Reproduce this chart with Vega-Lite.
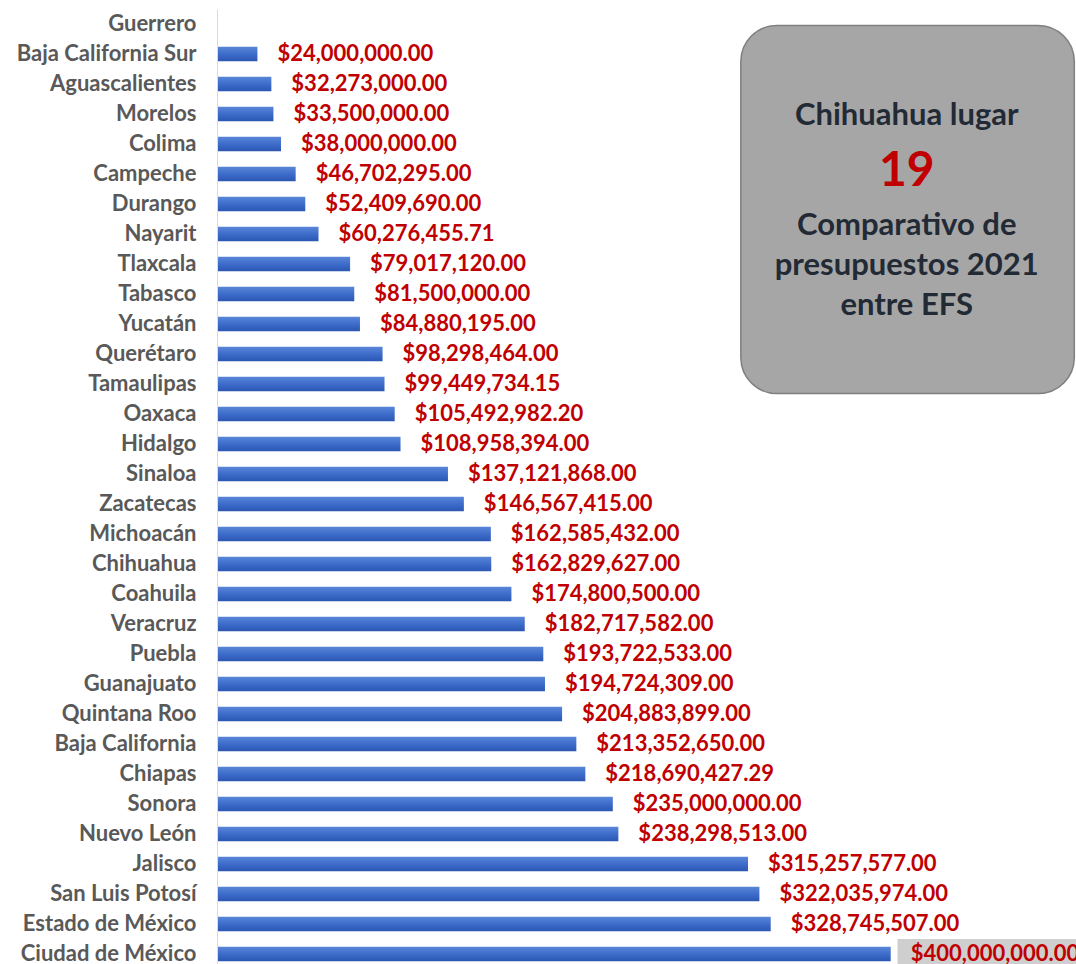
{
  "$schema": "https://vega.github.io/schema/vega-lite/v6.json",
  "width": 859,
  "height": 960,
  "padding": {"left": 0, "top": 9, "right": 0, "bottom": 0},
  "config": {"view": {"stroke": null}, "font": "Lato"},
  "data": {"values": [
    {"state": "Guerrero", "value": null},
    {"state": "Baja California Sur", "value": 24000000.00},
    {"state": "Aguascalientes", "value": 32273000.00},
    {"state": "Morelos", "value": 33500000.00},
    {"state": "Colima", "value": 38000000.00},
    {"state": "Campeche", "value": 46702295.00},
    {"state": "Durango", "value": 52409690.00},
    {"state": "Nayarit", "value": 60276455.71},
    {"state": "Tlaxcala", "value": 79017120.00},
    {"state": "Tabasco", "value": 81500000.00},
    {"state": "Yucatán", "value": 84880195.00},
    {"state": "Querétaro", "value": 98298464.00},
    {"state": "Tamaulipas", "value": 99449734.15},
    {"state": "Oaxaca", "value": 105492982.20},
    {"state": "Hidalgo", "value": 108958394.00},
    {"state": "Sinaloa", "value": 137121868.00},
    {"state": "Zacatecas", "value": 146567415.00},
    {"state": "Michoacán", "value": 162585432.00},
    {"state": "Chihuahua", "value": 162829627.00},
    {"state": "Coahuila", "value": 174800500.00},
    {"state": "Veracruz", "value": 182717582.00},
    {"state": "Puebla", "value": 193722533.00},
    {"state": "Guanajuato", "value": 194724309.00},
    {"state": "Quintana Roo", "value": 204883899.00},
    {"state": "Baja California", "value": 213352650.00},
    {"state": "Chiapas", "value": 218690427.29},
    {"state": "Sonora", "value": 235000000.00},
    {"state": "Nuevo León", "value": 238298513.00},
    {"state": "Jalisco", "value": 315257577.00},
    {"state": "San Luis Potosí", "value": 322035974.00},
    {"state": "Estado de México", "value": 328745507.00},
    {"state": "Ciudad de México", "value": 400000000.00}
  ]},
  "encoding": {
    "y": {
      "field": "state", "type": "nominal", "title": null,
      "scale": {
        "domain": ["Guerrero","Baja California Sur","Aguascalientes","Morelos","Colima","Campeche","Durango","Nayarit","Tlaxcala","Tabasco","Yucatán","Querétaro","Tamaulipas","Oaxaca","Hidalgo","Sinaloa","Zacatecas","Michoacán","Chihuahua","Coahuila","Veracruz","Puebla","Guanajuato","Quintana Roo","Baja California","Chiapas","Sonora","Nuevo León","Jalisco","San Luis Potosí","Estado de México","Ciudad de México"],
        "paddingInner": 0, "paddingOuter": 0
      },
      "axis": {
        "minExtent": 217, "maxExtent": 217, "ticks": false, "labelPadding": 21,
        "labelFont": "Lato", "labelFontWeight": "bold", "labelFontSize": 22,
        "labelColor": "#595959", "labelLimit": 300,
        "domainColor": "#d9d9d9", "domainWidth": 1
      }
    }
  },
  "layer": [
    {
      "data": {"values": [{}]},
      "mark": {"type": "rect", "cornerRadius": 36, "fill": "#a6a6a6", "stroke": "#7f7f7f", "strokeWidth": 1.5},
      "encoding": {
        "x": {"datum": 311000000, "type": "quantitative", "scale": {"domain": [0, 510000000], "nice": false, "zero": true}, "axis": null},
        "x2": {"datum": 509000000},
        "y": {"datum": "Guerrero", "bandPosition": 0.55},
        "y2": {"datum": "Tamaulipas", "bandPosition": 0.82}
      }
    },
    {
      "transform": [{"filter": "datum.state == 'Ciudad de México'"}],
      "mark": {"type": "rect", "fill": "#cfcfcf"},
      "encoding": {
        "x": {"datum": 404000000, "type": "quantitative"},
        "x2": {"datum": 510000000}
      }
    },
    {
      "mark": {
        "type": "bar",
        "height": {"band": 0.48},
        "color": {
          "gradient": "linear", "x1": 0, "y1": 0, "x2": 0, "y2": 1,
          "stops": [
            {"offset": 0, "color": "#5a86d8"},
            {"offset": 0.5, "color": "#3d6cca"},
            {"offset": 1, "color": "#2c57b3"}
          ]
        }
      },
      "encoding": {
        "x": {"field": "value", "type": "quantitative"}
      }
    },
    {
      "transform": [{"filter": "datum.value != null"}],
      "mark": {"type": "text", "align": "left", "baseline": "middle", "dx": 20, "font": "Lato", "fontWeight": "bold", "fontSize": 22, "color": "#c00000"},
      "encoding": {
        "x": {"field": "value", "type": "quantitative"},
        "text": {"field": "value", "type": "quantitative", "format": "$,.2f"}
      }
    },
    {
      "data": {"values": [{}]},
      "mark": {"type": "text", "align": "center", "baseline": "middle", "font": "Lato", "fontWeight": "bold", "fontSize": 31, "color": "#222a35", "dy": 2},
      "encoding": {
        "x": {"datum": 409500000, "type": "quantitative"},
        "y": {"datum": "Morelos"},
        "text": {"value": "Chihuahua lugar"}
      }
    },
    {
      "data": {"values": [{}]},
      "mark": {"type": "text", "align": "center", "baseline": "middle", "font": "Lato", "fontWeight": "bold", "fontSize": 48, "color": "#c00000", "dy": -2},
      "encoding": {
        "x": {"datum": 409500000, "type": "quantitative"},
        "y": {"datum": "Campeche"},
        "text": {"value": "19"}
      }
    },
    {
      "data": {"values": [{}]},
      "mark": {"type": "text", "align": "center", "baseline": "middle", "font": "Lato", "fontWeight": "bold", "fontSize": 31, "color": "#222a35", "lineHeight": 40, "dy": -8},
      "encoding": {
        "x": {"datum": 409500000, "type": "quantitative"},
        "y": {"datum": "Nayarit"},
        "text": {"value": ["Comparativo de", "presupuestos 2021", "entre EFS"]}
      }
    }
  ]
}
